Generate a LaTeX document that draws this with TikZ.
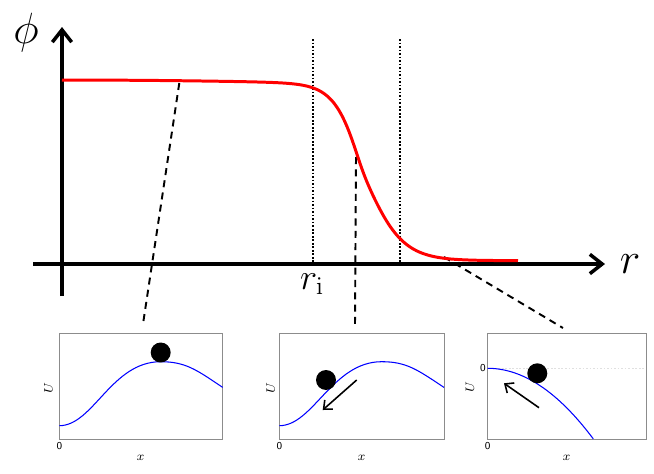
\documentclass[tikz,border=0pt]{standalone}
\usetikzlibrary{arrows.meta}
\begin{document}
\begin{tikzpicture}[x=0.02cm,y=-0.02cm,
  declare function={Lw(\t)=16.5+2.5*tanh(max(-3,min(3,(\t-363.3)/10)));
                    ff(\t)=1/(1+exp(min(9,-(\t-363.3)/Lw(\t))));},
  axis/.style={line width=2pt,-{Straight Barb[length=7pt,width=11pt]}},
  guide/.style={line width=0.9pt,dash pattern=on 1pt off 1pt},
  zoomline/.style={line width=1.1pt,dash pattern=on 4pt off 3pt},
  profile/.style={red,line width=1.7pt},
  pbox/.style={draw=black!45,line width=0.5pt},
  pot/.style={blue,line width=0.6pt},
  ball/.style={circle,fill=black,inner sep=0pt,minimum size=0.4cm},
  push/.style={line width=0.9pt,-{Straight Barb[length=4pt,width=7pt]}},
  tick/.style={font=\sffamily\fontsize{6}{6}\selectfont,inner sep=0pt},
  albl/.style={font=\fontsize{7}{7}\selectfont,inner sep=0pt}]
\useasboundingbox (0,0) rectangle (654,474);

% axes
\coordinate (yb) at (62,296); \coordinate (yt) at (62,27);
\coordinate (xl) at (33,264); \coordinate (xr) at (605,264);
% guides
\coordinate (g1t) at (313,39); \coordinate (g1b) at (313,264);
\coordinate (g2t) at (400,39); \coordinate (g2b) at (400,264);
\draw[guide] (g1t) -- (g1b);
\draw[guide] (g2t) -- (g2b);
% zoom connectors
\coordinate (c1) at (179.3,83); \coordinate (e1) at (143.3,322);
\coordinate (c2) at (356,157);  \coordinate (e2) at (355,326);
\coordinate (c3) at (444,257);  \coordinate (e3) at (563,328);
\draw[zoomline] (c1) -- (e1);
\draw[zoomline] (c2) -- (e2);
\draw[zoomline] (c3) -- (e3);
\draw[axis] (yb) -- (yt);
\draw[axis] (xl) -- (xr);
% profile
\draw[profile] plot[domain=62:518,samples=230]
  (\x,{80+180.7*ff(\x)+(1-ff(\x))*(0.00707*(\x-62))^2});

\node[inner sep=0pt] (phi) at (26,33) {\fontsize{24}{24}\selectfont$\phi$};
\node[inner sep=0pt] (rl) at (630,264) {\fontsize{24}{24}\selectfont$r$};
\node[inner sep=0pt] (ri) at (312,284) {\fontsize{22}{22}\selectfont$r_{\mathrm{i}}$};

% panel 1
\draw[pbox] (59.3,333.3) rectangle (222.7,439);
\begin{scope}[shift={(59.3,439)},y=0.02cm]
  \draw[pot] (0,13.3) .. controls (34,13.3) and (52,77.3) .. (101.4,77.3)
                      .. controls (126.4,77.3) and (137.4,69.05) .. (163.4,51.6);
\end{scope}
\node[ball] (b1) at (160.7,352.5) {};
\node[tick] (z1) at (59.3,446) {0};
\node[albl,rotate=90] (u1) at (48.3,388) {$U$};
\node[albl] (x1) at (140.7,458) {$x$};

% panel 2
\draw[pbox] (279.3,333.3) rectangle (444,439);
\begin{scope}[shift={(279.3,439)},y=0.02cm]
  \draw[pot] (0,13.3) .. controls (34,13.3) and (53,77.3) .. (102.4,77.3)
                      .. controls (127.4,77.3) and (138.4,69.05) .. (164.7,51.6);
\end{scope}
\node[ball] (b2) at (326,380) {};
\coordinate (a2s) at (356.7,380); \coordinate (a2e) at (322.7,410);
\draw[push] (a2s) -- (a2e);
\node[tick] (z2) at (279.3,446) {0};
\node[albl,rotate=90] (u2) at (270.7,388) {$U$};
\node[albl] (x2) at (361.7,458) {$x$};

% panel 3
\draw[black!12,line width=0.4pt,dash pattern=on 1pt off 1pt] (487.7,368.3) -- (646,368.3);
\draw[pbox] (487.7,333.3) rectangle (646,439);
\draw[pot] plot[domain=0:105.6,samples=40] ({487.7+\x},{368.3+0.00634*\x*\x});
\node[ball] (b3) at (537.3,373.3) {};
\coordinate (a3s) at (539,407.7); \coordinate (a3e) at (504,383.3);
\draw[push] (a3s) -- (a3e);
\node[tick] (z3) at (487.7,446) {0};
\node[tick] (z3u) at (483,368.3) {0};
\node[albl,rotate=90] (u3) at (470,386.7) {$U$};
\node[albl] (x3) at (566.7,458) {$x$};
\end{tikzpicture}
\end{document}
